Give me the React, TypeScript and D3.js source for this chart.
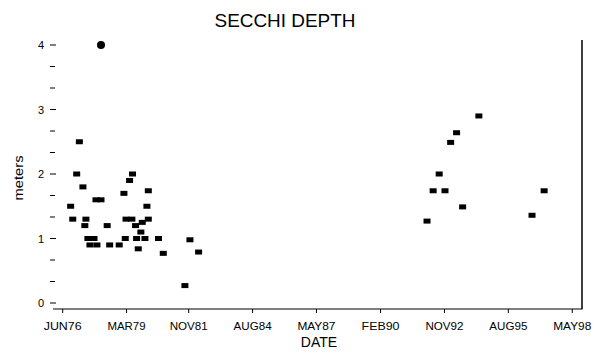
import React from "react";
import * as d3 from "d3";

// Secchi depth observations (date, meters)
const squareDates: string[] = [
  "1976-10-04", "1976-11-06", "1977-01-07", "1977-02-18", "1977-04-15",
  "1977-05-15", "1977-06-01", "1977-07-02", "1977-08-03", "1977-10-06",
  "1977-11-06", "1977-11-21", "1978-01-24", "1978-05-01", "1978-06-09",
  "1978-11-06", "1979-01-19", "1979-02-09", "1979-02-21", "1979-04-18",
  "1979-05-24", "1979-06-03", "1979-07-21", "1979-08-06", "1979-09-01",
  "1979-10-12", "1979-11-03", "1979-12-15", "1980-01-15", "1980-02-06",
  "1980-02-06", "1980-07-15", "1980-09-28", "1981-09-03", "1981-11-21",
  "1982-04-06",
  "1992-02-01", "1992-05-07", "1992-08-10", "1992-11-09", "1993-02-06",
  "1993-05-10", "1993-08-13", "1994-04-25", "1996-08-07", "1997-02-13",
];
const squareValues: number[] = [
  1.5, 1.3, 2.0, 2.5, 1.8,
  1.2, 1.3, 1.0, 0.9, 1.0,
  1.6, 0.9, 1.6, 1.2, 0.9,
  0.9, 1.7, 1.0, 1.3, 1.9,
  1.3, 2.0, 1.2, 1.0, 0.84,
  1.1, 1.25, 1.0, 1.5, 1.3,
  1.74, 1.0, 0.77, 0.27, 0.98,
  0.79,
  1.27, 1.74, 2.0, 1.74, 2.49,
  2.64, 1.49, 2.9, 1.36, 1.74,
];
const circleDates: string[] = ["1978-01-24"];
const circleValues: number[] = [4.0];

const xTickDates: string[] = [
  "1976-06-01", "1979-03-01", "1981-11-01", "1984-08-01", "1987-05-01",
  "1990-02-01", "1992-11-01", "1995-08-01", "1998-05-01",
];
const yMajorTicks: number[] = [0, 1, 2, 3, 4];
const xDomain: string[] = ["1976-01-01", "1998-10-01"];
const yDomain: number[] = [0, 4];

const parse = d3.timeParse("%Y-%m-%d");
const fmt = d3.timeFormat("%b%y");
const FONT = "'Liberation Sans', Arial, sans-serif";

export default function App() {
  const x = d3
    .scaleTime()
    .domain(xDomain.map((d) => parse(d) as Date))
    .range([53, 582]);
  const y = d3.scaleLinear().domain(yDomain).range([303, 45]);

  const minor: number[] = [];
  for (let i = 0; i < yMajorTicks.length - 1; i++) {
    const a = yMajorTicks[i];
    const b = yMajorTicks[i + 1];
    minor.push(a + (b - a) / 3, a + (2 * (b - a)) / 3);
  }

  const axisY = 309;
  const rw = 7;
  const rh = 5;

  return (
    <svg
      width={604}
      height={354}
      style={{ position: "absolute", left: 0, top: 0, background: "#fff" }}
      fontFamily={FONT}
    >
      <rect x={0} y={0} width={604} height={354} fill="#fff" />
      <text
        x={285}
        y={27}
        textAnchor="middle"
        fontSize={18}
        textLength={141}
        lengthAdjust="spacingAndGlyphs"
        fill="#000"
      >
        SECCHI DEPTH
      </text>

      {/* y axis ticks (no axis line) */}
      {yMajorTicks.map((t) => (
        <g key={"ym" + t}>
          <line x1={50} x2={56} y1={y(t)} y2={y(t)} stroke="#000" strokeWidth={1} />
          <text x={44} y={y(t) + 4} textAnchor="end" fontSize={11} fill="#000">
            {t}
          </text>
        </g>
      ))}
      {minor.map((t, i) => (
        <line key={"yn" + i} x1={50} x2={55} y1={y(t)} y2={y(t)} stroke="#000" strokeWidth={1} />
      ))}
      <text
        transform={`translate(23,178) rotate(-90)`}
        textAnchor="middle"
        fontSize={13}
        textLength={45}
        lengthAdjust="spacingAndGlyphs"
        fill="#000"
      >
        meters
      </text>

      {/* x axis */}
      <line x1={53} x2={582.5} y1={axisY} y2={axisY} stroke="#000" strokeWidth={1.2} />
      <line x1={582} x2={582} y1={40} y2={axisY} stroke="#000" strokeWidth={1.5} />
      {xTickDates.map((d) => {
        const dt = parse(d) as Date;
        const px = x(dt);
        return (
          <g key={d}>
            <line x1={px} x2={px} y1={axisY} y2={axisY + 4} stroke="#000" />
            <text
              x={px}
              y={330}
              textAnchor="middle"
              fontSize={11}
              textLength={38}
              lengthAdjust="spacingAndGlyphs"
              fill="#000"
            >
              {fmt(dt).toUpperCase()}
            </text>
          </g>
        );
      })}
      <text x={319} y={347} textAnchor="middle" fontSize={14} fill="#000">
        DATE
      </text>

      {/* data */}
      {squareDates.map((d, i) => (
        <rect
          key={"s" + i}
          x={x(parse(d) as Date) - rw / 2}
          y={y(squareValues[i]) - rh / 2}
          width={rw}
          height={rh}
          fill="#000"
        />
      ))}
      {circleDates.map((d, i) => (
        <circle
          key={"c" + i}
          cx={x(parse(d) as Date)}
          cy={y(circleValues[i])}
          r={4}
          fill="#000"
        />
      ))}
    </svg>
  );
}
